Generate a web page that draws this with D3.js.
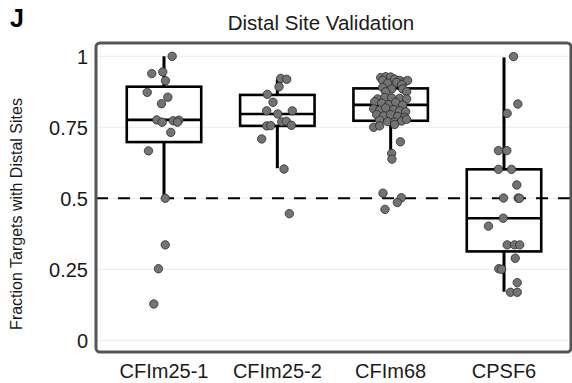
<!DOCTYPE html>
<html><head><meta charset="utf-8">
<script src="https://cdn.jsdelivr.net/npm/d3@7/dist/d3.min.js"></script>
<style>body{margin:0;background:#fff}svg{display:block}text{font-family:"Liberation Sans",Arial,sans-serif}</style>
</head><body><svg id="c" width="572" height="383"></svg>
<script>
const categories = ["CFIm25-1","CFIm25-2","CFIm68","CPSF6"];
const yTicks = [0, 0.25, 0.5, 0.75, 1];
const yTickLabels = ["0","0.25","0.5","0.75","1"];
const refLine = 0.5;
const boxQ1 = [0.698, 0.755, 0.773, 0.313];
const boxMedian = [0.776, 0.797, 0.829, 0.430];
const boxQ3 = [0.893, 0.864, 0.887, 0.602];
const whiskerLow = [0.50, 0.606, 0.646, 0.171];
const whiskerHigh = [1.0, 0.919, 0.931, 0.996];

const valuesCFIm25_1 = [1.0,0.939,0.945,0.914,0.873,0.856,0.833,0.776,0.768,0.773,0.775,0.768,0.732,0.667,0.50,0.336,0.252,0.128];
const jitterCFIm25_1 = [0.072,-0.108,-0.011,0.013,-0.148,0.034,-0.022,-0.064,-0.016,0.081,0.131,0.119,0.060,-0.137,0.011,0.011,-0.049,-0.090];
const valuesCFIm25_2 = [0.922,0.919,0.893,0.866,0.838,0.808,0.797,0.808,0.755,0.756,0.769,0.771,0.757,0.709,0.603,0.446];
const jitterCFIm25_2 = [0.030,0.083,0.015,-0.088,-0.038,-0.094,0.004,0.132,-0.094,-0.058,0.039,0.079,0.124,-0.138,0.059,0.106];
const valuesCFIm68 = [0.925,0.928,0.927,0.920,0.915,0.910,0.915,0.915,0.905,0.908,0.900,
  0.890,0.885,0.885,0.875,0.875,
  0.850,0.855,0.853,0.852,0.850,
  0.840,0.835,0.830,0.838,0.828,
  0.815,0.810,0.818,0.812,0.808,0.805,
  0.795,0.790,0.795,0.788,0.785,
  0.775,0.770,0.768,0.772,0.778,
  0.750,0.755,0.760,
  0.699,0.658,0.638,0.518,0.502,0.485,0.461];
const jitterCFIm68 = [-0.088,-0.044,0,0.035,0.079,0.124,0.150,-0.071,-0.026,0.053,0.097,
  -0.071,0.009,0.106,0.141,-0.044,
  -0.115,-0.053,0.009,0.079,0.141,
  -0.141,-0.079,-0.018,0.044,0.106,
  -0.150,-0.097,-0.044,0.026,0.079,0.132,
  -0.124,-0.062,0,0.062,0.124,
  -0.097,-0.026,0.035,0.097,0.141,
  -0.150,-0.097,0.035,
  0.086,0.009,0.011,-0.068,0.094,0.059,-0.050];
const valuesCPSF6 = [0.999,0.832,0.799,0.668,0.668,0.602,0.602,0.547,0.501,0.501,0.500,0.430,0.402,0.336,0.336,0.336,0.289,0.252,0.250,0.203,0.169,0.169];
const jitterCPSF6 = [0.084,0.122,0.028,-0.049,0.025,-0.049,0.066,0.113,-0.004,0.125,0.137,-0.007,-0.137,0.028,0.093,0.139,0.099,-0.046,-0.022,0.117,0.057,0.117];

const groupValues = [valuesCFIm25_1, valuesCFIm25_2, valuesCFIm68, valuesCPSF6];
const groupJitter = [jitterCFIm25_1, jitterCFIm25_2, jitterCFIm68, jitterCPSF6];

const svg = d3.select("#c");
const panel = {left: 96, right: 571, top: 43, bottom: 352};
const x = d3.scalePoint().domain(categories).range([96, 572]).padding(0.6);
const step = x.step();
const y = d3.scaleLinear().domain([0, 1]).range([340.3, 56.3]);
const boxW = 0.657 * step;

// gridlines
svg.append("g").selectAll("line").data(yTicks).join("line")
  .attr("x1", panel.left).attr("x2", panel.right)
  .attr("y1", d => y(d)).attr("y2", d => y(d))
  .attr("stroke", "#ebebeb").attr("stroke-width", 1);

// reference dashed line
svg.append("line")
  .attr("x1", panel.left).attr("x2", panel.right)
  .attr("y1", y(refLine)).attr("y2", y(refLine))
  .attr("stroke", "#000").attr("stroke-width", 2).attr("stroke-dasharray", "12,10");

// boxes
const boxes = svg.append("g").selectAll("g").data(categories).join("g");
boxes.append("line")
  .attr("x1", d => x(d)).attr("x2", d => x(d))
  .attr("y1", (d, i) => y(whiskerHigh[i])).attr("y2", (d, i) => y(boxQ3[i]))
  .attr("stroke", "#000").attr("stroke-width", 3);
boxes.append("line")
  .attr("x1", d => x(d)).attr("x2", d => x(d))
  .attr("y1", (d, i) => y(boxQ1[i])).attr("y2", (d, i) => y(whiskerLow[i]))
  .attr("stroke", "#000").attr("stroke-width", 3);
boxes.append("rect")
  .attr("x", d => x(d) - boxW / 2).attr("width", boxW)
  .attr("y", (d, i) => y(boxQ3[i])).attr("height", (d, i) => y(boxQ1[i]) - y(boxQ3[i]))
  .attr("fill", "none").attr("stroke", "#000").attr("stroke-width", 2.6);
boxes.append("line")
  .attr("x1", d => x(d) - boxW / 2).attr("x2", d => x(d) + boxW / 2)
  .attr("y1", (d, i) => y(boxMedian[i])).attr("y2", (d, i) => y(boxMedian[i]))
  .attr("stroke", "#000").attr("stroke-width", 2.6);

// points
const pts = [];
categories.forEach((c, i) => groupValues[i].forEach((v, j) => pts.push({c, v, jx: groupJitter[i][j]})));
svg.append("g").selectAll("circle").data(pts).join("circle")
  .attr("cx", d => x(d.c) + d.jx * step)
  .attr("cy", d => y(d.v))
  .attr("r", 4.2)
  .attr("fill", "#737373").attr("stroke", "#2b2b2b").attr("stroke-width", 0.8);

// panel border
svg.append("rect")
  .attr("x", panel.left).attr("y", panel.top)
  .attr("width", panel.right - panel.left).attr("height", panel.bottom - panel.top)
  .attr("rx", 4).attr("fill", "none").attr("stroke", "#555").attr("stroke-width", 3);

// y tick labels
svg.append("g").selectAll("text").data(yTicks).join("text")
  .attr("x", 88).attr("y", d => y(d)).attr("dy", "0.36em")
  .attr("text-anchor", "end").attr("font-size", 20).attr("fill", "#1a1a1a")
  .text((d, i) => yTickLabels[i]);

// x tick labels
svg.append("g").selectAll("text").data(categories).join("text")
  .attr("x", d => x(d)).attr("y", 378)
  .attr("text-anchor", "middle").attr("font-size", 20).attr("fill", "#1a1a1a")
  .text(d => d);

// title
svg.append("text").attr("x", 321).attr("y", 30).attr("text-anchor", "middle")
  .attr("font-size", 20.5).attr("fill", "#1a1a1a").text("Distal Site Validation");

// y axis title
svg.append("text").attr("transform", "translate(22,214) rotate(-90)")
  .attr("text-anchor", "middle").attr("font-size", 16).attr("fill", "#1a1a1a")
  .text("Fraction Targets with Distal Sites");

// panel letter
svg.append("text").attr("x", 10).attr("y", 27).attr("font-size", 25).attr("font-weight", "bold")
  .attr("fill", "#000").text("J");
</script></body></html>
